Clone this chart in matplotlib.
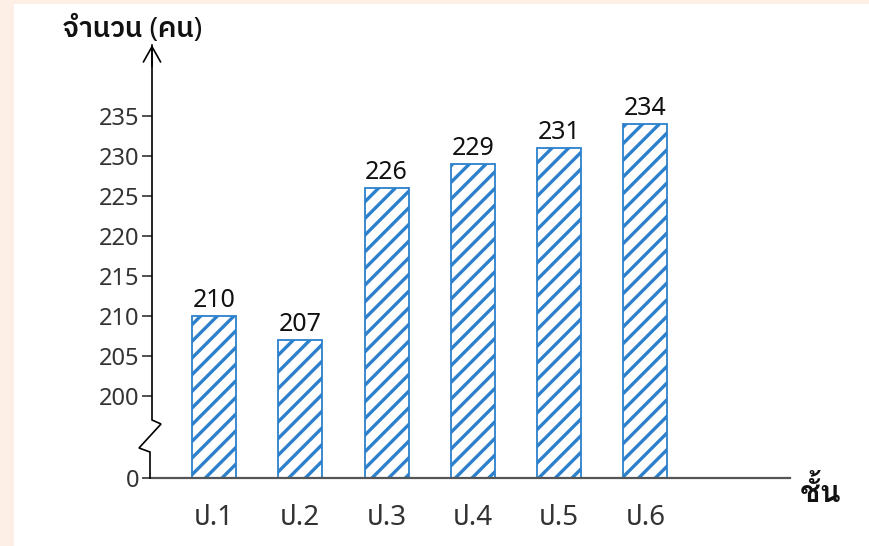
import numpy as np
import matplotlib
matplotlib.use("Agg")
import matplotlib.pyplot as plt
from matplotlib.patches import Rectangle

plt.rcParams['font.family'] = ['Noto Sans Thai', 'Noto Sans', 'DejaVu Sans']
plt.rcParams['hatch.linewidth'] = 2.4
bold_fam = ['Noto Sans', 'IBM Plex Sans Thai', 'DejaVu Sans']

# --- Data ---
grades = ["ป.1", "ป.2", "ป.3", "ป.4", "ป.5", "ป.6"]
students = [210, 207, 226, 229, 231, 234]
yticks = [0, 200, 205, 210, 215, 220, 225, 230, 235]

bar_color = "#2c80cc"
text_gray = "#333333"
peach = "#fdefe5"

# broken axis: 0..200 squeezed into a short stretch, then linear above 200
gap = 10.3
def fwd(y):
    y = np.asarray(y, dtype=float)
    return np.where(y >= 200, y - 200 + gap, y * gap / 200)

def inv(v):
    v = np.asarray(v, dtype=float)
    return np.where(v >= gap, v + 200 - gap, v * 200 / gap)

fig = plt.figure(figsize=(8.69, 5.46), dpi=100)
fig.patch.set_facecolor("white")
# peach frame strips (left and top)
fig.patches.append(Rectangle((0, 0), 14 / 869, 1, transform=fig.transFigure,
                             facecolor=peach, edgecolor="none", zorder=-5))
fig.patches.append(Rectangle((0, 1 - 4 / 546), 1, 4 / 546, transform=fig.transFigure,
                             facecolor=peach, edgecolor="none", zorder=-5))

ax = fig.add_axes([152 / 869, 68 / 546, 638 / 869, 433 / 546])
ax.set_yscale("function", functions=(fwd, inv))

x = np.arange(len(grades))
bars = ax.bar(x, students, width=0.51, color="white", edgecolor=bar_color,
              hatch="//", linewidth=1.3, zorder=2)

for xi, v in zip(x, students):
    ax.text(xi, v + 0.4, str(v), ha="center", va="bottom", fontsize=18,
            family=bold_fam, fontweight="medium", color="#111111")

ax.set_xlim(-0.718, 6.675)
ax.set_ylim(0, 243.9)

ax.set_yticks(yticks)
ax.set_yticklabels([str(t) for t in yticks], fontsize=17, color=text_gray)
ax.tick_params(axis="y", length=7, width=1.1, color="#222222", pad=2)
ax.set_xticks(x)
ax.set_xticklabels(grades, fontsize=20, color=text_gray)
ax.tick_params(axis="x", length=0, pad=19)

for s in ["top", "right", "left"]:
    ax.spines[s].set_visible(False)
ax.spines["bottom"].set_color("#555555")
ax.spines["bottom"].set_linewidth(1.6)

# left axis with zigzag break, drawn in axes fraction
zx = np.array([0, 0, 9, -13, -2, -2]) / 638
zy = (478 - np.array([45, 420, 424, 448, 452, 478])) / 433
ax.plot(zx, zy, transform=ax.transAxes, color="black", lw=1.2, clip_on=False,
        solid_joinstyle="miter", zorder=3)
ax.annotate("", xy=(0, 1.0), xytext=(0, 0.95), xycoords="axes fraction",
            arrowprops=dict(arrowstyle="->,head_length=1.1,head_width=0.62",
                            color="black", lw=1.2, shrinkA=0, shrinkB=0))

fig.text(133 / 869, 1 - 30 / 546, "จำนวน (คน)", ha="center", va="center",
         fontsize=20, family=bold_fam, fontweight="semibold", color="#111111")
# Loma keeps the stacked marks right without text shaping
fig.text(821 / 869, 1 - 492 / 546, "ชั้น", ha="center", va="center",
         fontsize=22, family=['Loma', 'DejaVu Sans'], fontweight="bold",
         color="#111111")

fig.savefig("out.png", dpi=100)
